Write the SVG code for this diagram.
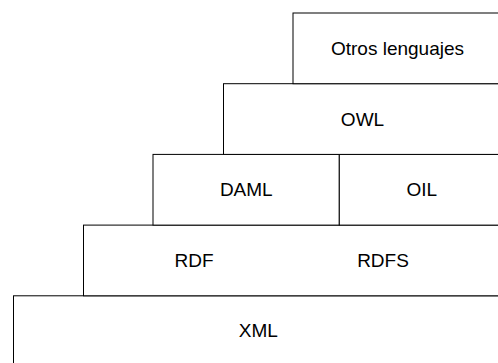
<svg xmlns="http://www.w3.org/2000/svg" width="498" height="363" viewBox="0 0 498 363">
<style>
rect.box{fill:#fff;stroke:#000;stroke-width:1}
text{font-family:"Liberation Sans",Arial,sans-serif;font-size:19px;fill:#000;text-anchor:middle;dominant-baseline:central}
</style>
<rect width="498" height="363" fill="#fff"/>
<g id="xml"><rect class="box" x="13.5" y="295.8" width="490" height="80"/><text x="258.3" y="330.5">XML</text></g>
<g id="rdf"><rect class="box" x="83.5" y="225.1" width="420" height="70.7"/><text x="194" y="260.4">RDF</text><text x="383" y="260.4">RDFS</text></g>
<g id="daml"><rect class="box" x="153" y="154.4" width="186.3" height="70.7"/><text x="246.3" y="189.7">DAML</text></g>
<g id="oil"><rect class="box" x="339.3" y="154.4" width="164" height="70.7"/><text x="421.7" y="189.7">OIL</text></g>
<g id="owl"><rect class="box" x="223.5" y="83.7" width="280" height="70.7"/><text x="362.5" y="119">OWL</text></g>
<g id="otros"><rect class="box" x="293" y="13" width="210" height="70.7"/><text x="397.5" y="48.3">Otros lenguajes</text></g>
<g id="connectors"></g>
</svg>
